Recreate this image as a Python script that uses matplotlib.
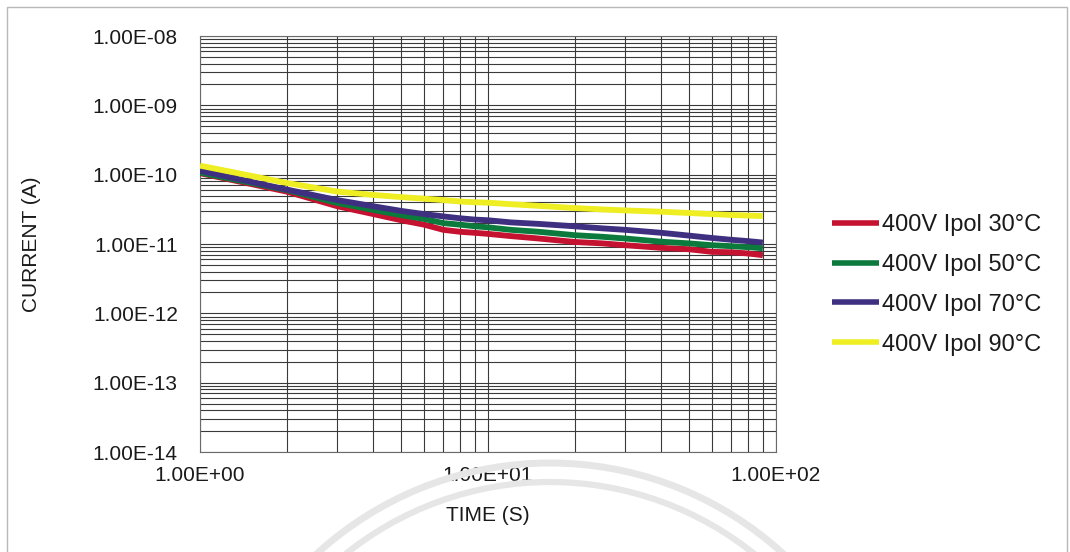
import matplotlib
matplotlib.use("Agg")
import matplotlib.pyplot as plt
from matplotlib.ticker import LogLocator, FuncFormatter, NullFormatter
from matplotlib.patches import Rectangle, Arc

# Polarisation current at 400 V for four temperatures
time_s = [1, 2, 3, 4, 5, 6, 7, 8, 9, 10, 12, 15, 20, 25, 30, 40, 50, 60, 70, 80, 90]

ipol_30c = [1.05e-10, 5.7e-11, 3.5e-11, 2.7e-11, 2.2e-11, 1.9e-11, 1.6e-11, 1.5e-11,
            1.45e-11, 1.4e-11, 1.3e-11, 1.2e-11, 1.07e-11, 1.02e-11, 9.6e-12, 8.8e-12,
            8.4e-12, 7.7e-12, 7.6e-12, 7.3e-12, 6.9e-12]
ipol_50c = [1.07e-10, 6.0e-11, 3.9e-11, 3.1e-11, 2.6e-11, 2.3e-11, 2.0e-11, 1.9e-11,
            1.8e-11, 1.74e-11, 1.6e-11, 1.5e-11, 1.34e-11, 1.27e-11, 1.2e-11, 1.08e-11,
            1.02e-11, 9.6e-12, 9.3e-12, 9.0e-12, 8.7e-12]
ipol_70c = [1.14e-10, 6.1e-11, 4.3e-11, 3.5e-11, 3.0e-11, 2.7e-11, 2.5e-11, 2.35e-11,
            2.25e-11, 2.2e-11, 2.05e-11, 1.95e-11, 1.8e-11, 1.68e-11, 1.6e-11, 1.45e-11,
            1.32e-11, 1.22e-11, 1.15e-11, 1.1e-11, 1.05e-11]
ipol_90c = [1.35e-10, 7.6e-11, 5.7e-11, 5.1e-11, 4.75e-11, 4.5e-11, 4.3e-11, 4.1e-11,
            4.0e-11, 3.94e-11, 3.75e-11, 3.55e-11, 3.3e-11, 3.15e-11, 3.05e-11, 2.92e-11,
            2.8e-11, 2.7e-11, 2.62e-11, 2.57e-11, 2.53e-11]

series_labels = ["400V Ipol 30°C", "400V Ipol 50°C", "400V Ipol 70°C", "400V Ipol 90°C"]
series_colors = ["#c41230", "#0b7a3c", "#3f2f80", "#eeee22"]

plt.rcParams["font.family"] = ["Liberation Sans", "DejaVu Sans"]
text_color = "#1a1a1a"

fig = plt.figure(figsize=(10.70, 5.52), dpi=100)
fig.patch.set_facecolor("white")

# thin frame around the whole chart
fig.patches.append(Rectangle((7 / 1070, -0.01), 1060 / 1070, 1 - 7 / 552 + 0.01,
                             transform=fig.transFigure, fill=False,
                             edgecolor="#b8b8b8", linewidth=1.0, zorder=0))

# faint seal in the lower middle
seal_cx, seal_cy = 550, 808
for r, w in [(345, 5), (326, 4.5)]:
    fig.patches.append(Arc((seal_cx / 1070, 1 - seal_cy / 552), 2 * r / 1070, 2 * r / 552,
                           theta1=20, theta2=160, transform=fig.transFigure,
                           edgecolor="#e6e6e6", linewidth=w, zorder=0))

ax = fig.add_axes([200 / 1070, 1 - 452 / 552, 576 / 1070, 416 / 552])
ax.set_xscale("log")
ax.set_yscale("log")
ax.set_xlim(1, 100)
ax.set_ylim(1e-14, 1e-8)

for values, label, color in zip([ipol_30c, ipol_50c, ipol_70c, ipol_90c],
                                series_labels, series_colors):
    ax.plot(time_s, values, color=color, linewidth=4.2, label=label,
            solid_capstyle="butt", zorder=3)

ax.xaxis.set_major_locator(LogLocator(base=10, numticks=10))
ax.xaxis.set_minor_locator(LogLocator(base=10, subs=range(2, 10), numticks=20))
ax.yaxis.set_major_locator(LogLocator(base=10, numticks=10))
ax.yaxis.set_minor_locator(LogLocator(base=10, subs=range(2, 10), numticks=20))
sci = FuncFormatter(lambda v, pos: f"{v:.2E}")
ax.xaxis.set_major_formatter(sci)
ax.yaxis.set_major_formatter(sci)
ax.xaxis.set_minor_formatter(NullFormatter())
ax.yaxis.set_minor_formatter(NullFormatter())

ax.grid(True, which="both", color="#3a3a3a", linewidth=0.8)
ax.set_axisbelow(True)
ax.tick_params(which="both", length=0, labelsize=15, colors=text_color)
ax.tick_params(axis="y", pad=16)
ax.tick_params(axis="x", pad=10)
for s in ax.spines.values():
    s.set_color("#6a6a6a")
    s.set_linewidth(0.8)

ax.set_xlabel("TIME (S)", fontsize=15, color=text_color, labelpad=15)
ax.set_ylabel("CURRENT (A)", fontsize=15, color=text_color, labelpad=37)

leg = ax.legend(loc="center left", bbox_to_anchor=(1.08, 0.402), frameon=False,
                fontsize=17, handlelength=2.0, handletextpad=0.12,
                labelspacing=0.76, borderaxespad=0)
for h in leg.get_lines():
    h.set_linewidth(4)
for t in leg.get_texts():
    t.set_color(text_color)

fig.savefig("out.png", dpi=100, facecolor="white")
